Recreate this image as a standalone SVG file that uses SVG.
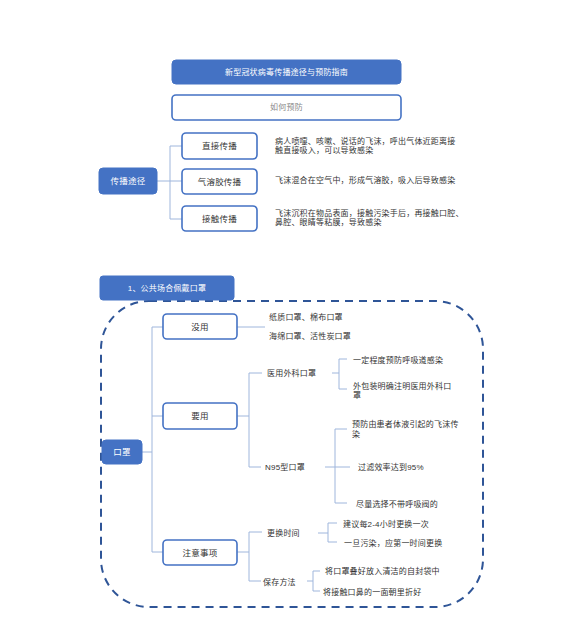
<svg xmlns="http://www.w3.org/2000/svg" width="569" height="640" viewBox="0 0 569 640">
<style>
text{font-family:"Liberation Sans","Noto Sans CJK SC",sans-serif;font-size:8px;fill:#333;dominant-baseline:central;letter-spacing:0.2px}
.c{text-anchor:middle;font-size:8.5px}
.w{fill:#fff}
.fill{fill:#4472C4;stroke:#4472C4;stroke-width:1}
.box{fill:#fff;stroke:#4472C4;stroke-width:1.6}
.ln{fill:none;stroke:#9FB6DC;stroke-width:1}
</style>
<rect width="569" height="640" fill="#fff"/>
<g id="title"><rect class="fill" x="172" y="60" width="229" height="24" rx="4"/><text class="c w" x="286.5" y="72" style="font-size:8px">新型冠状病毒传播途径与预防指南</text></g>
<g id="howto"><rect class="box" x="172" y="95" width="229" height="25" rx="4"/><text class="c" x="286.5" y="107.5" style="fill:#888;font-size:8px">如何预防</text></g>
<g id="connectors">
<path class="ln" d="M157 181H182M170 146V219M170 146H182M170 219H182"/>
<path class="ln" d="M142 452H152M152 327V552M152 327H163M152 416H163M152 552H163"/>
<path class="ln" d="M237 327H265"/>
<path class="ln" d="M237 416H249M249 373V467M249 373H262M249 467H261"/>
<path class="ln" d="M332 373H339M339 359V389M339 359H347M339 389H347"/>
<path class="ln" d="M325 467H350M335 429V503M335 429H347M335 503H347"/>
<path class="ln" d="M237 552H249M249 532V581M249 532H262M249 581H261"/>
<path class="ln" d="M318 533H328M328 523V542M328 523H337M328 542H337"/>
<path class="ln" d="M307 581H313M313 571V591M313 571H320M313 591H320"/>
</g>
<g id="spread"><rect class="fill" x="99" y="168" width="58" height="26" rx="4"/><text class="c w" x="128" y="181">传播途径</text></g>
<g id="direct"><rect class="box" x="182" y="133" width="75" height="26" rx="4"/><text class="c" x="219.5" y="146">直接传播</text></g>
<g id="aerosol"><rect class="box" x="182" y="169" width="75" height="25" rx="4"/><text class="c" x="219.5" y="181.5">气溶胶传播</text></g>
<g id="contact"><rect class="box" x="182" y="206" width="75" height="25" rx="4"/><text class="c" x="219.5" y="218.5">接触传播</text></g>
<g id="spread-texts">
<text x="275" y="141">病人喷嚏、咳嗽、说话的飞沫，呼出气体近距离接</text>
<text x="275" y="150.5">触直接吸入，可以导致感染</text>
<text x="275" y="180.5">飞沫混合在空气中，形成气溶胶，吸入后导致感染</text>
<text x="275" y="213">飞沫沉积在物品表面，接触污染手后，再接触口腔、</text>
<text x="275" y="222.5">鼻腔、眼睛等粘膜，导致感染</text>
</g>
<g id="frame"><rect x="101" y="301" width="382" height="306" rx="48" fill="none" stroke="#2F5597" stroke-width="2" stroke-dasharray="8 6"/></g>
<g id="section"><rect class="fill" x="100" y="276" width="134" height="24" rx="3"/><text class="c w" x="167" y="288" style="font-size:8px">1、公共场合佩戴口罩</text></g>
<g id="mask"><rect class="fill" x="102" y="440" width="40" height="24" rx="4"/><text class="c w" x="122" y="452">口罩</text></g>
<g id="useless"><rect class="box" x="163" y="314" width="74" height="25" rx="4"/><text class="c" x="200" y="326.5">没用</text></g>
<g id="useful"><rect class="box" x="163" y="403" width="74" height="26" rx="4"/><text class="c" x="200" y="416">要用</text></g>
<g id="notes"><rect class="box" x="163" y="540" width="74" height="25" rx="4"/><text class="c" x="200" y="552.5">注意事项</text></g>
<g id="mask-texts">
<text x="269" y="317">纸质口罩、棉布口罩</text>
<text x="269" y="336">海绵口罩、活性炭口罩</text>
<text x="267" y="373.5">医用外科口罩</text>
<text x="353" y="360">一定程度预防呼吸道感染</text>
<text x="353" y="386">外包装明确注明医用外科口</text>
<text x="353" y="395.5">罩</text>
<text x="265" y="467.5">N95型口罩</text>
<text x="352" y="424.5">预防由患者体液引起的飞沫传</text>
<text x="352" y="434.5">染</text>
<text x="358" y="467.5">过滤效率达到95%</text>
<text x="356" y="504.5">尽量选择不带呼吸阀的</text>
<text x="267" y="533">更换时间</text>
<text x="343" y="524">建议每2-4小时更换一次</text>
<text x="344" y="543">一旦污染，应第一时间更换</text>
<text x="263" y="582">保存方法</text>
<text x="325" y="571.5">将口罩叠好放入清洁的自封袋中</text>
<text x="323" y="592">将接触口鼻的一面朝里折好</text>
</g>
</svg>
